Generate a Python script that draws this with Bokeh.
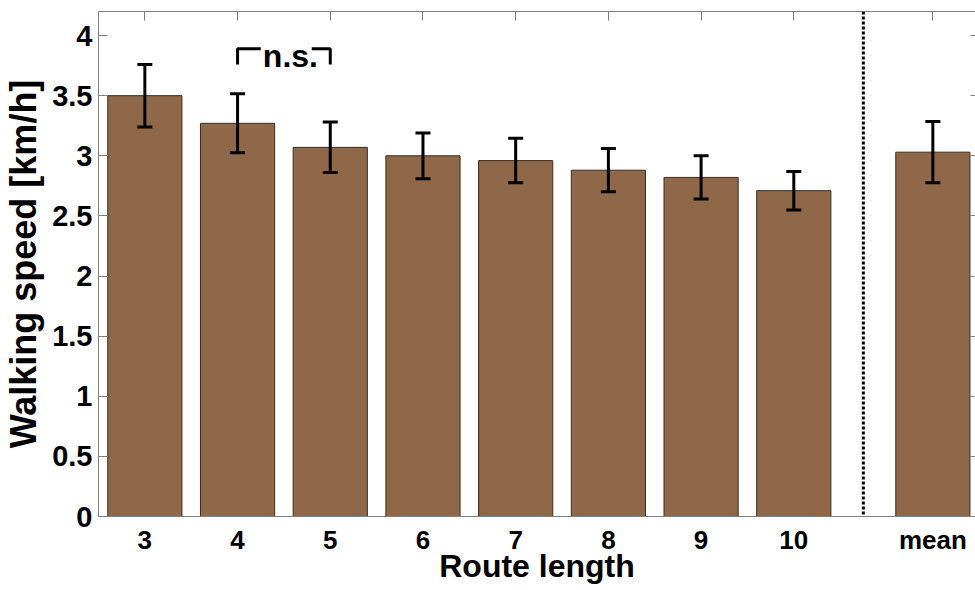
from bokeh.plotting import figure
from bokeh.models import (ColumnDataSource, Range1d, LinearAxis, FixedTicker, Span,
                          Whisker, TeeHead, NumeralTickFormatter)
from bokeh.embed import file_html
from bokeh.resources import INLINE
from bokeh.core.properties import value

# ---- data ----
categories = ["3", "4", "5", "6", "7", "8", "9", "10", "mean"]
positions = [3, 4, 5, 6, 7, 8, 9, 10, 11.5]
speed = [3.50, 3.27, 3.07, 3.00, 2.96, 2.88, 2.82, 2.71, 3.03]
err = [0.26, 0.245, 0.21, 0.19, 0.185, 0.18, 0.18, 0.16, 0.255]
y_ticks = [0, 0.5, 1, 1.5, 2, 2.5, 3, 3.5, 4]
separator_at = 10.75
ns_pair = [4, 5]
ns_height = 3.89
ns_drop = 0.13

FONT = "Liberation Sans"
BAR = "#8E6848"
AXIS = "#808080"

src = ColumnDataSource(dict(
    x=positions, top=speed,
    upper=[s + e for s, e in zip(speed, err)],
    lower=[s - e for s, e in zip(speed, err)],
))

p = figure(width=975, height=590, output_backend="svg", toolbar_location=None,
           x_range=Range1d(2.5, 11.96), y_range=Range1d(0, 4.2),
           min_border_left=98, min_border_right=0, min_border_top=11, min_border_bottom=74,
           x_axis_location=None, y_axis_location=None)
p.outline_line_color = None
p.xgrid.visible = False
p.ygrid.visible = False
p.background_fill_color = "white"
p.border_fill_color = "white"

p.vbar(x="x", top="top", width=0.8, source=src, fill_color=BAR,
       line_color="#3d2b1c", line_width=1)

w = Whisker(source=src, base="x", upper="upper", lower="lower",
            line_color="black", line_width=3, level="annotation",
            upper_head=TeeHead(size=15, line_width=3, line_color="black"),
            lower_head=TeeHead(size=15, line_width=3, line_color="black"))
p.add_layout(w)

p.add_layout(Span(location=separator_at, dimension="height", line_color="black",
                  line_width=3, line_dash="3 2"))

# n.s. bracket
a, b = ns_pair
p.line([a, a, a + 0.25], [ns_height - ns_drop, ns_height, ns_height], line_color="black", line_width=3)
p.line([b - 0.2, b, b], [ns_height, ns_height, ns_height - ns_drop], line_color="black", line_width=3)
p.text(x=[(a + b) / 2 + 0.07], y=[ns_height - 0.06], text=["n.s."], text_align="center",
       text_baseline="alphabetic", text_font=value(FONT), text_font_style="bold",
       text_font_size="32px", text_color="black")

# axes
xa = LinearAxis(ticker=FixedTicker(ticks=positions),
                major_label_overrides={pos: c for pos, c in zip(positions, categories)})
xa.axis_label = "Route length"
xa.major_tick_in = 0
xa.major_tick_out = 0
xa.minor_tick_in = 0
xa.minor_tick_out = 0
xa.axis_line_color = AXIS
xa.major_label_standoff = 8
xa.major_label_text_font = FONT
xa.major_label_text_font_style = "bold"
xa.major_label_text_font_size = "26px"
xa.major_label_text_color = "black"
xa.axis_label_text_font = FONT
xa.axis_label_text_font_style = "bold"
xa.axis_label_text_font_size = "32px"
xa.axis_label_text_color = "black"
xa.axis_label_standoff = -10
p.add_layout(xa, "below")

ya = LinearAxis(ticker=FixedTicker(ticks=y_ticks), formatter=NumeralTickFormatter(format="0.[0]"))
ya.axis_label = "Walking speed [km/h]"
ya.major_tick_in = 9
ya.major_tick_out = 0
ya.minor_tick_in = 0
ya.minor_tick_out = 0
ya.axis_line_color = AXIS
ya.major_tick_line_color = AXIS
ya.major_label_standoff = 6
ya.major_label_text_font = FONT
ya.major_label_text_font_style = "bold"
ya.major_label_text_font_size = "29px"
ya.major_label_text_color = "black"
ya.axis_label_text_font = FONT
ya.axis_label_text_font_style = "bold"
ya.axis_label_text_font_size = "36px"
ya.axis_label_text_color = "black"
ya.axis_label_standoff = 5
p.add_layout(ya, "left")

ta = LinearAxis(ticker=FixedTicker(ticks=positions),
                major_label_overrides={pos: "" for pos in positions})
ta.major_tick_in = 9
ta.major_tick_out = 0
ta.minor_tick_in = 0
ta.minor_tick_out = 0
ta.axis_line_color = AXIS
ta.major_tick_line_color = AXIS
ta.major_label_text_font_size = "1px"
ta.major_label_standoff = 0
p.add_layout(ta, "above")

ra = LinearAxis(ticker=FixedTicker(ticks=y_ticks),
                major_label_overrides={t: "" for t in y_ticks})
ra.major_tick_in = 5
ra.major_tick_out = 0
ra.minor_tick_in = 0
ra.minor_tick_out = 0
ra.axis_line_color = None
ra.major_tick_line_color = AXIS
ra.major_label_text_font_size = "1px"
ra.major_label_standoff = 0
p.add_layout(ra, "right")

open("out.html", "w").write(file_html(p, INLINE))
